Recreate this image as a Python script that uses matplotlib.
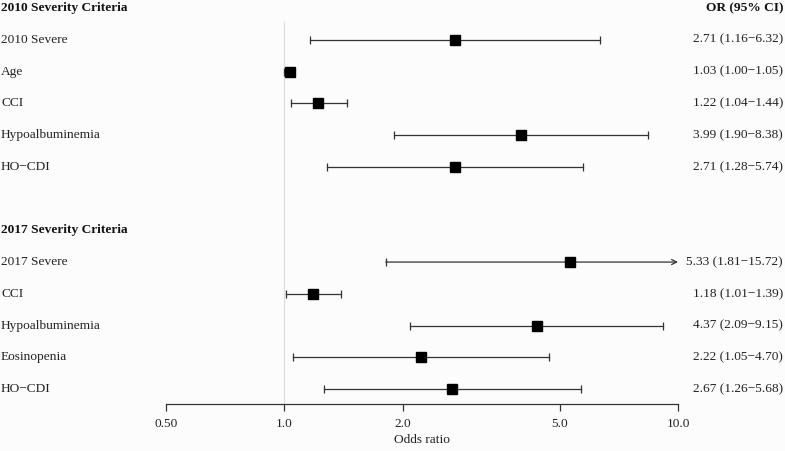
import matplotlib.pyplot as plt
import matplotlib.transforms as mtransforms

# two blocks of the forest plot
groups = ["2010 Severity Criteria", "2017 Severity Criteria"]
labels_2010 = ["2010 Severe", "Age", "CCI", "Hypoalbuminemia", "HO\u2212CDI"]
or_2010 = [2.71, 1.03, 1.22, 3.99, 2.71]
lo_2010 = [1.16, 1.00, 1.04, 1.90, 1.28]
hi_2010 = [6.32, 1.05, 1.44, 8.38, 5.74]

labels_2017 = ["2017 Severe", "CCI", "Hypoalbuminemia", "Eosinopenia", "HO\u2212CDI"]
or_2017 = [5.33, 1.18, 4.37, 2.22, 2.67]
lo_2017 = [1.81, 1.01, 2.09, 1.05, 1.26]
hi_2017 = [15.72, 1.39, 9.15, 4.70, 5.68]

xticks = [0.5, 1.0, 2.0, 5.0, 10.0]
xticklabels = ["0.50", "1.0", "2.0", "5.0", "10.0"]
xmin, xmax = 0.5, 10.0

plt.rcParams['font.family'] = ['Liberation Serif', 'DejaVu Serif']
fs = 9.6
bg = '#fcfcfc'

W, H = 785, 451
fig = plt.figure(figsize=(W / 100, H / 100), dpi=100, facecolor=bg)
ax = fig.add_axes([166 / W, 47 / H, 512 / W, 404 / H], facecolor=bg)
ax.set_xscale('log')
ax.set_xlim(xmin, xmax)
ax.set_ylim(12.47, -0.252)

# left labels / right text in figure-x, data-y coordinates
trans = mtransforms.blended_transform_factory(fig.transFigure, ax.transData)

rows = []
y = 0
for g, labs, ors, los, his in [(groups[0], labels_2010, or_2010, lo_2010, hi_2010),
                                (groups[1], labels_2017, or_2017, lo_2017, hi_2017)]:
    rows.append(("head", g, y))
    y += 1
    for lab, o, l, h in zip(labs, ors, los, his):
        rows.append(("item", (lab, o, l, h), y))
        y += 1
    y += 1

ax.plot([1, 1], [0.44, 12.47], color='#dddddd', lw=0.9, zorder=0)

fig.text(783 / W, 0, "OR (95% CI)", transform=trans, ha='right', va='center',
         fontsize=fs, fontweight='bold', color='#111111')
for kind, content, yy in rows:
    if kind == "head":
        fig.text(1 / W, yy, content, transform=trans, ha='left', va='center',
                 fontsize=fs, fontweight='bold', color='#111111')
        continue
    lab, o, l, h = content
    fig.text(1 / W, yy, lab, transform=trans, ha='left', va='center',
             fontsize=fs, color='#222222')
    fig.text(783 / W, yy, f"{o:.2f} ({l:.2f}\u2212{h:.2f})", transform=trans,
             ha='right', va='center', fontsize=fs, color='#222222')
    lc = '#333333'
    if h > xmax:
        ax.annotate('', xy=(xmax, yy), xytext=(l, yy),
                    arrowprops=dict(arrowstyle='->', lw=0.9, color=lc,
                                    shrinkA=0, shrinkB=0, mutation_scale=9))
        ax.plot([l], [yy], marker='|', ms=6, mew=0.9, color=lc)
    else:
        ax.plot([l, h], [yy, yy], color=lc, lw=0.9, marker='|', ms=6, mew=0.9)
    ax.plot([o], [yy], marker='s', ms=7.5, color='black', zorder=3)

for s in ['top', 'right', 'left']:
    ax.spines[s].set_visible(False)
ax.spines['bottom'].set_color('#333333')
ax.spines['bottom'].set_linewidth(0.9)
ax.set_yticks([])
ax.set_xticks(xticks)
ax.set_xticklabels(xticklabels, fontsize=fs, color='#222222')
ax.xaxis.set_minor_locator(plt.NullLocator())
ax.tick_params(axis='x', length=5, width=0.9, color='#333333', pad=5)
ax.set_xlabel("Odds ratio", fontsize=fs, color='#222222', labelpad=3)

fig.savefig("out.png", dpi=100, facecolor=bg)
